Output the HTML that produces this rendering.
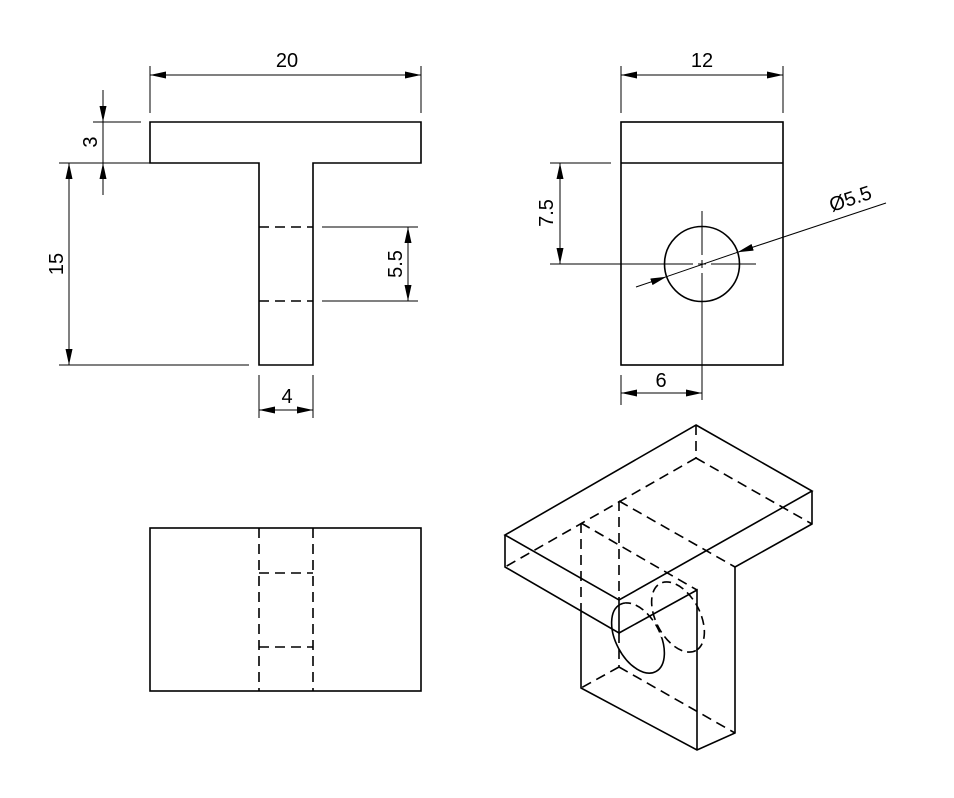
<!DOCTYPE html>
<html><head><meta charset="utf-8"><style>
html,body{margin:0;padding:0;background:#fff;}
svg{display:block;}
text{font-family:"Liberation Sans",sans-serif;font-size:20px;fill:#000;}
</style></head><body>
<svg width="954" height="798" viewBox="0 0 954 798" xmlns="http://www.w3.org/2000/svg">
<defs>
<marker id="a" viewBox="0 0 16 7" refX="16" refY="3.5" markerWidth="16" markerHeight="7" markerUnits="userSpaceOnUse" orient="auto-start-reverse"><path d="M0,0 L16,3.5 L0,7 Z" fill="#000"/></marker>
<clipPath id="cs"><polygon points="590,633 619,633 697,590 730,590 730,700 590,700"/></clipPath>
<clipPath id="cd"><polygon points="590,633 619,633 697,590 730,590 730,560 590,560"/></clipPath>
</defs>
<g stroke="#000" stroke-width="1.6" fill="none">
<path d="M150,122 H421 V163 H313 V365 H259 V163 H150 Z"/>
<path d="M259,227 H313 M259,301 H313" stroke-dasharray="10,6"/>
<path d="M150,66 V113 M421,66 V113" stroke-width="1"/>
<path d="M93,122 H141 M59,163 H249 M59,365 H249" stroke-width="1"/>
<path d="M322,227 H418 M322,301 H418" stroke-width="1"/>
<path d="M259,375 V418 M313,375 V418" stroke-width="1"/>
<line x1="150" y1="75" x2="421" y2="75" stroke-width="1" marker-start="url(#a)" marker-end="url(#a)"/>
<line x1="69" y1="163" x2="69" y2="365" stroke-width="1" marker-start="url(#a)" marker-end="url(#a)"/>
<line x1="103" y1="90" x2="103" y2="122" stroke-width="1" marker-end="url(#a)"/>
<line x1="103" y1="195" x2="103" y2="163" stroke-width="1" marker-end="url(#a)"/>
<line x1="103" y1="122" x2="103" y2="163" stroke-width="1"/>
<line x1="408" y1="227" x2="408" y2="301" stroke-width="1" marker-start="url(#a)" marker-end="url(#a)"/>
<line x1="259" y1="410" x2="313" y2="410" stroke-width="1" marker-start="url(#a)" marker-end="url(#a)"/>

<rect x="621" y="122" width="162" height="243"/>
<line x1="621" y1="163" x2="783" y2="163"/>
<circle cx="702" cy="264" r="37.5"/>
<path d="M702,211 V255 M702,260 V268 M702,273 V400 M648,264 H693 M698,264 H706 M711,264 H756" stroke-width="1"/>
<path d="M621,66 V113 M783,66 V113 M550,163 H611 M550,264 H648 M621,375 V405" stroke-width="1"/>
<line x1="621" y1="75" x2="783" y2="75" stroke-width="1" marker-start="url(#a)" marker-end="url(#a)"/>
<line x1="560" y1="163" x2="560" y2="264" stroke-width="1" marker-start="url(#a)" marker-end="url(#a)"/>
<line x1="621" y1="393" x2="702" y2="393" stroke-width="1" marker-start="url(#a)" marker-end="url(#a)"/>
<line x1="636" y1="287" x2="666.5" y2="276.7" stroke-width="1" marker-end="url(#a)"/>
<line x1="886" y1="203" x2="737.5" y2="252.3" stroke-width="1" marker-end="url(#a)"/>
<line x1="666.5" y1="276.7" x2="737.5" y2="252.3" stroke-width="1"/>

<rect x="150" y="528" width="271" height="163"/>
<path d="M259,528 V691 M313,528 V691 M259,573 H313 M259,647 H313" stroke-dasharray="10,6"/>

<path d="M696,425 L812,491 L619,600 L505,535 Z"/>
<path d="M505,535 V567 L619,633 V600 M812,491 V524 L735,567 V733 L697,750 L581,688 V611 M619,633 L697,590 V750"/>
<path d="M696,425 V458 M696,458 L812,524 M696,458 L505,567 M619,501 V600 M619,501 L735,567 M581,523 L697,590 M581,523 V611 M619,633 V667 M619,667 L581,688 M619,667 L735,733" stroke-dasharray="10,6"/>
<ellipse cx="638" cy="638" rx="38" ry="22" transform="rotate(62 638 638)" clip-path="url(#cs)"/>
<ellipse cx="638" cy="638" rx="38" ry="22" transform="rotate(62 638 638)" clip-path="url(#cd)" stroke-dasharray="9,5"/>
<ellipse cx="678" cy="617" rx="38" ry="22" transform="rotate(62 678 617)" stroke-dasharray="9,5"/>
</g>
<text x="287" y="67" text-anchor="middle">20</text>
<text x="702" y="67" text-anchor="middle">12</text>
<text x="287" y="403" text-anchor="middle">4</text>
<text x="661" y="387" text-anchor="middle">6</text>
<text transform="translate(97,142) rotate(-90)" text-anchor="middle">3</text>
<text transform="translate(63,264) rotate(-90)" text-anchor="middle">15</text>
<text transform="translate(402,264) rotate(-90)" text-anchor="middle">5.5</text>
<text transform="translate(553,213) rotate(-90)" text-anchor="middle">7.5</text>
<text transform="translate(832,212) rotate(-18.6)">Ø5.5</text>
</svg>
</body></html>
